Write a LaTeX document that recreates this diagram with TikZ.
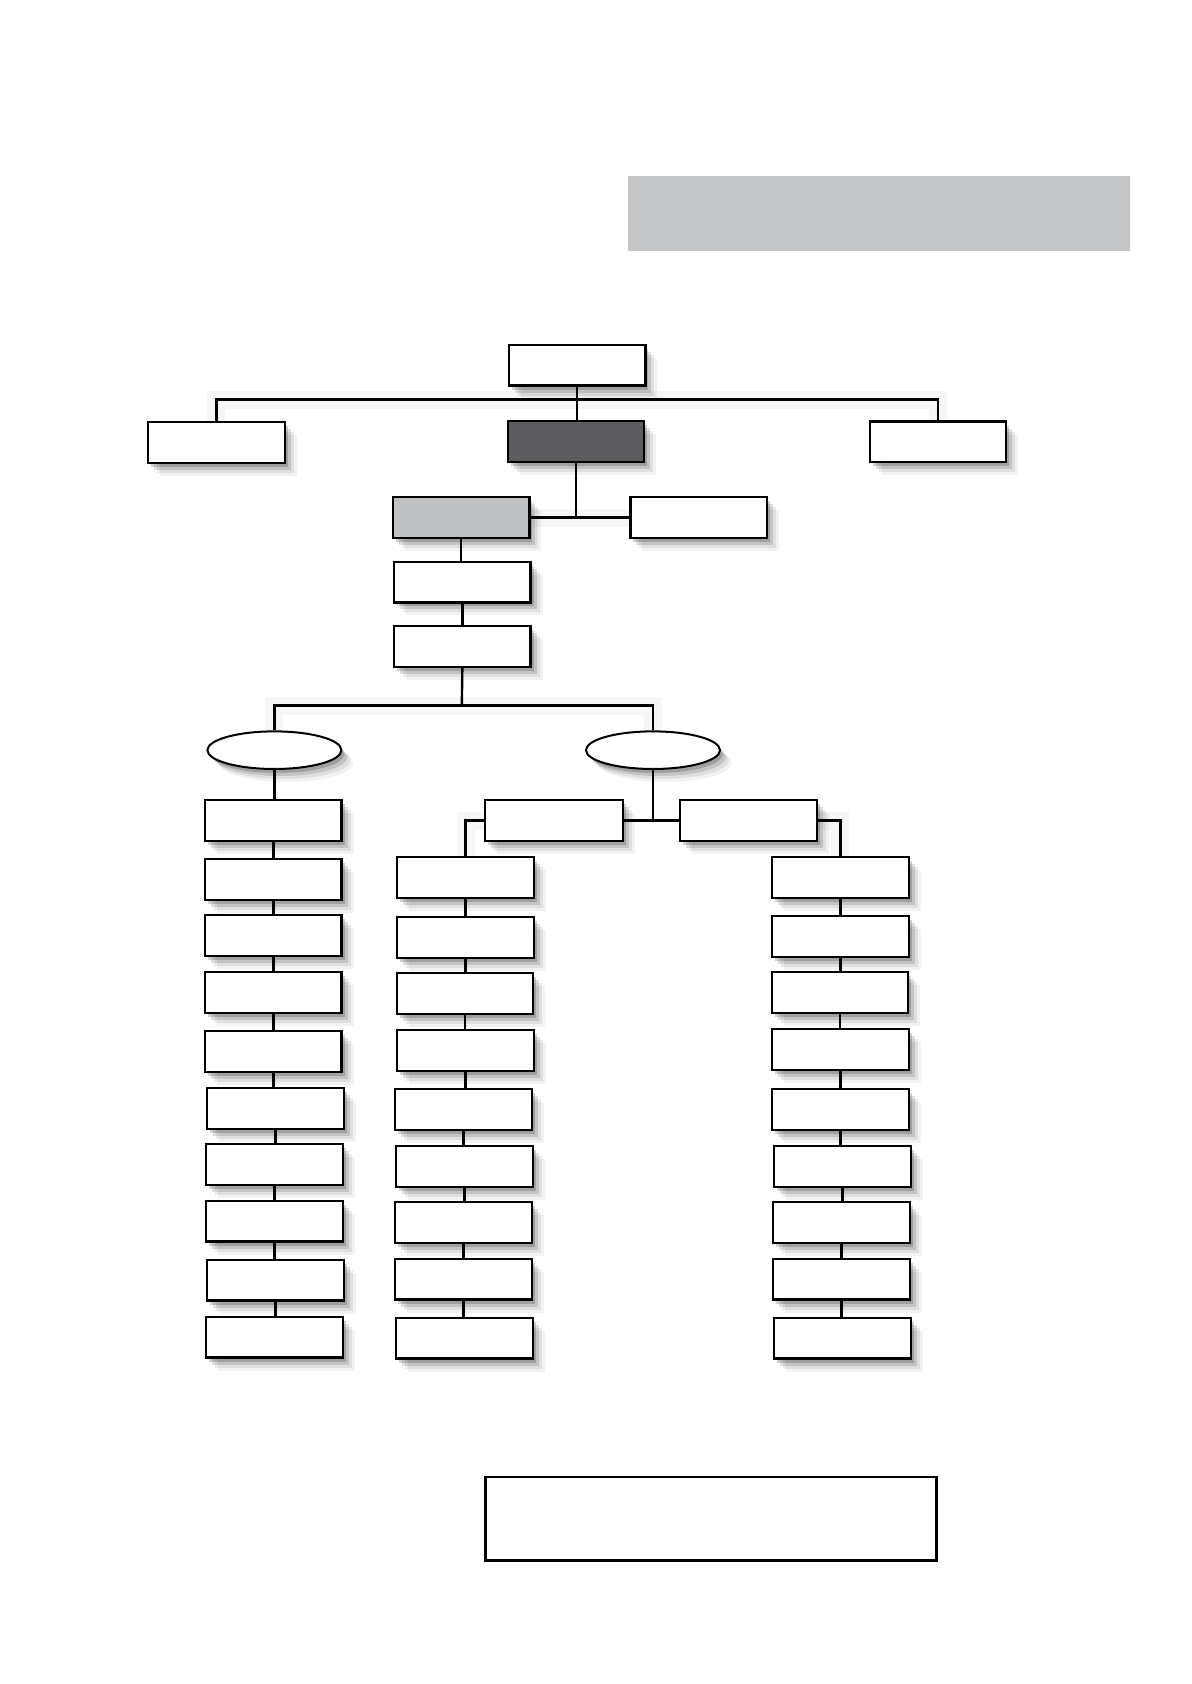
\documentclass[tikz,border=0pt]{standalone}
\usetikzlibrary{shadows,shapes.geometric}
\definecolor{banner}{HTML}{C4C5C6}
\definecolor{darkfill}{HTML}{5D5D5F}
\definecolor{lightfill}{HTML}{BFC0C2}
\pgfdeclarelayer{bg}
\pgfdeclarelayer{paper}
\pgfsetlayers{paper,bg,main}
\begin{document}
\begin{tikzpicture}[
  x=0.537pt, y=-0.537pt,
  sh/.style={
    drop shadow={shadow xshift=1.5pt,shadow yshift=-2pt,opacity=.18,fill=black},
    drop shadow={shadow xshift=3pt,shadow yshift=-3.5pt,opacity=.12,fill=black},
    drop shadow={shadow xshift=4.5pt,shadow yshift=-5pt,opacity=.08,fill=black},
    drop shadow={shadow xshift=6pt,shadow yshift=-6.5pt,opacity=.05,fill=black}},
  box/.style={rectangle, draw=black, line width=1.1pt, fill=white,
    minimum width=68.2pt, minimum height=20.4pt, inner sep=0pt, sh},
  wbox/.style={box, minimum width=68.8pt},
  oval/.style={ellipse, draw=black, line width=1pt, fill=white,
    minimum width=67pt, minimum height=18.8pt, inner sep=0pt, sh},
  conn/.style={draw=black, line width=1.2pt},
  connsh/.style={draw=black, opacity=.035, line width=9pt}
]
\begin{pgfonlayer}{paper}
\fill[white] (0,0) rectangle (1109,1568);
\end{pgfonlayer}
\useasboundingbox (0,0) rectangle (1109,1568);

% banner
\node[fill=banner, minimum width=250.8pt, minimum height=37.6pt, inner sep=0pt] (banner) at (818.5,199) {};

% top levels
\node[box] (top) at (537.5,340) {};
\node[box] (L) at (201.5,412) {};
\node[box, fill=darkfill] (C) at (536.5,411) {};
\node[box] (R) at (873.5,411.5) {};
\node[box, fill=lightfill] (G) at (429.5,482) {};
\node[box] (S) at (650.5,482) {};
\node[box] (b1) at (430.5,542) {};
\node[box] (b2) at (430.5,602) {};

% ellipses
\node[oval] (eL) at (255.5,698.5) {};
\node[oval] (eR) at (608,698.5) {};

% second level under right ellipse
\node[wbox] (m1) at (516,764) {};
\node[wbox] (m2) at (697,764) {};

% left column
\node[box] (l1) at (254.5,764) {};
\node[box] (l2) at (254.5,819) {};
\node[box] (l3) at (254.5,871) {};
\node[box] (l4) at (254.5,924) {};
\node[box] (l5) at (254.5,979) {};
\node[box] (l6) at (256.5,1032) {};
\node[box] (l7) at (255.5,1084.5) {};
\node[box] (l8) at (255.5,1137) {};
\node[box] (l9) at (256.5,1192) {};
\node[box] (l10) at (255.5,1245) {};

% middle column
\node[box] (c1) at (433.5,817) {};
\node[box] (c2) at (433.5,873) {};
\node[box] (c3) at (433,925) {};
\node[box] (c4) at (433.5,978) {};
\node[box] (c5) at (431.5,1033) {};
\node[box] (c6) at (432.5,1086) {};
\node[box] (c7) at (431.5,1138) {};
\node[box] (c8) at (431.5,1191) {};
\node[box] (c9) at (432.5,1246) {};

% right column
\node[box] (r1) at (782.5,817) {};
\node[box] (r2) at (782.5,872) {};
\node[box] (r3) at (782,924) {};
\node[box] (r4) at (782.5,977) {};
\node[box] (r5) at (782.5,1033) {};
\node[box] (r6) at (784.5,1086) {};
\node[box] (r7) at (783.5,1138) {};
\node[box] (r8) at (783.5,1191) {};
\node[box] (r9) at (784.5,1246) {};

% bottom note box
\node[draw=black, line width=1.1pt, fill=white, minimum width=225.5pt, minimum height=41.9pt, inner sep=0pt] (note) at (662,1414) {};

\coordinate (bus) at (537,372);
\coordinate (bus2) at (430,657);

\begin{pgfonlayer}{bg}
% soft shadows of the bus lines
\begin{scope}[shift={(3,10)}]
\path[connsh] (L.north) |- (bus) -| (R.north);
\path[connsh] (eL.north) |- (bus2) -| (eR.north);
\path[connsh] (G.east) -- (S.west);
\path[connsh] (m1.west) -| (c1.north);
\path[connsh] (m2.east) -| (r1.north);
\end{scope}
\path[conn] (top.south) -- (top.south |- C.north);
\path[conn] (L.north) |- (bus) -| (R.north);
\path[conn] (C.south) -- (C.south |- G.east);
\path[conn] (G.east) -- (S.west);
\path[conn] (G.south) -- (G.south |- b1.north);
\path[conn] (b1.south) -- (b1.south |- b2.north);
\path[conn] (b2.south) -- (bus2);
\path[conn] (eL.north) |- (bus2) -| (eR.north);
\path[conn] (eL.south) -- (eL.south |- l1.north);
\path[conn] (eR.south) -- (eR.south |- m1.east);
\path[conn] (m1.east) -- (m2.west);
\path[conn] (m1.west) -| (c1.north);
\path[conn] (m2.east) -| (r1.north);
\foreach \a/\b in {l1/l2,l2/l3,l3/l4,l4/l5,l5/l6,l6/l7,l7/l8,l8/l9,l9/l10,
  c1/c2,c2/c3,c3/c4,c4/c5,c5/c6,c6/c7,c7/c8,c8/c9,
  r1/r2,r2/r3,r3/r4,r4/r5,r5/r6,r6/r7,r7/r8,r8/r9}
  \path[conn] (\a.south) -- (\a.south |- \b.north);
\end{pgfonlayer}
\end{tikzpicture}
\end{document}
